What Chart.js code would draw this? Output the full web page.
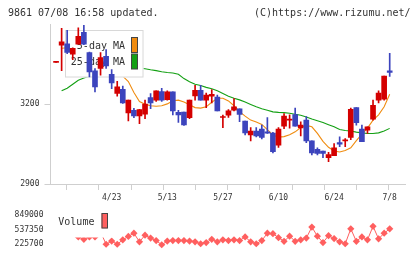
<!DOCTYPE html>
<html><head><meta charset="utf-8">
<script src="https://cdn.jsdelivr.net/npm/chart.js@4/dist/chart.umd.min.js"></script>
<style>
html,body{margin:0;padding:0;background:#fff;}
#wrap{position:relative;width:420px;height:259px;overflow:hidden;font-family:"DejaVu Sans Mono",monospace;}
.hdr{position:absolute;top:6px;font-size:10px;color:#333;line-height:14px;white-space:pre;}
#c1{position:absolute;left:0;top:0;width:420px;height:203px;}
#c2{position:absolute;left:0;top:203px;width:420px;height:56px;}
</style></head><body>
<div id="wrap">
<canvas id="c1" width="420" height="203"></canvas>
<canvas id="c2" width="420" height="56"></canvas>
<div class="hdr" style="left:8px">9861 07/08 16:58 updated.</div>
<div class="hdr" style="left:254px">(C)https://www.rizumu.net/</div>
</div>
<script>
// ---- data ----
const opens  = [3357,3422,3427,3388,3425,3470,3394,3325,3334,3380,3312,3240,3256,3167,3177,3156,3162,3225,3215,3247,3217,3246,3169,3170,3149,3231,3252,3215,3230,3227,3150,3159,3177,3182,3136,3084,3099,3106,3096,3091,3046,3117,3140,3161,3111,3140,3062,3030,3024,2999,3006,3056,3062,3075,3187,3106,3102,3144,3215,3219,3325];
const closes = [3357,3434,3394,3410,3455,3425,3321,3265,3375,3344,3280,3265,3205,3215,3156,3180,3200,3205,3250,3215,3246,3175,3160,3122,3215,3252,3215,3234,3237,3175,3152,3175,3190,3161,3092,3099,3081,3075,3091,3021,3106,3155,3142,3117,3121,3062,3017,3015,3015,3011,3036,3050,3065,3181,3130,3059,3115,3196,3242,3305,3319];
const highs  = [3357,3485,3477,3412,3487,3496,3396,3334,3394,3405,3330,3286,3268,3215,3184,3181,3215,3240,3250,3259,3250,3246,3177,3170,3215,3271,3271,3242,3255,3234,3159,3180,3221,3182,3136,3112,3112,3121,3150,3094,3112,3165,3160,3185,3134,3153,3062,3036,3024,3019,3052,3077,3071,3185,3187,3121,3115,3215,3250,3305,3391];
const lows   = [3357,3326,3390,3367,3425,3423,3302,3246,3309,3334,3258,3230,3203,3137,3149,3127,3145,3183,3210,3210,3215,3160,3131,3120,3145,3215,3215,3187,3205,3175,3112,3150,3175,3134,3084,3062,3077,3069,3090,3017,3037,3108,3110,3117,3081,3055,3009,3009,2999,2984,3006,3040,3040,3067,3121,3059,3090,3140,3205,3215,3304];
const ma5    = [null,3410,3412,3415,3410,3424,3401,3375,3368,3346,3320,3310,3305,3285,3244,3210,3200,3194,3192,3194,3201,3213,3215,3208,3198,3187,3185,3190,3207,3222,3222,3212,3194,3172,3155,3140,3133,3124,3104,3084,3076,3078,3085,3096,3112,3120,3115,3090,3060,3038,3024,3020,3026,3036,3063,3087,3110,3140,3160,3190,3237];
const ma25   = [null,3250,3260,3275,3290,3298,3305,3313,3320,3326,3330,3333,3335,3336,3336,3335,3333,3329,3326,3322,3319,3317,3312,3296,3284,3275,3270,3263,3258,3250,3240,3230,3222,3216,3208,3199,3190,3183,3177,3171,3169,3168,3166,3162,3158,3152,3144,3138,3131,3123,3115,3105,3101,3099,3095,3092,3090,3090,3092,3099,3109];
const volumes= [500000,849000,640000,470000,381500,329600,381500,381500,487500,225700,293200,225700,319200,391900,459400,277600,417900,355500,303600,215300,293200,303600,303600,303600,293200,277600,236100,262100,329600,277600,319200,303600,319200,303600,381500,277600,236100,303600,459400,449000,365900,288000,397100,288000,319200,355500,589300,397100,262100,407500,345200,277600,236100,553000,288000,381500,319200,604900,340000,459400,553000];
const tickIdx    = [10,20,30,40,50,60];
const tickLabels = ['4/23','5/13','5/27','6/10','6/24','7/8'];
const priceTicks = [2900,3200];
const volTicks   = [225700,537350,849000];

// ---- styles ----
const RED='#d40000', BLUE='#3c44bd', ORANGE='#f08c10', GREEN='#14a014', VOL='#ff5f5f', AXIS='#cfcfcf', TXT='#333';
const MONO='"DejaVu Sans Mono", monospace';
Chart.defaults.font.family = MONO;
Chart.defaults.color = TXT;

const idx = opens.map((_, i) => i);
const candleColor = idx.map(i => closes[i] >= opens[i] ? RED : BLUE);
const XMIN = -1, XMAX = 62.75;

const priceLegend = {
  id: 'priceLegend',
  afterDatasetDraw(chart, args) {
    if (args.index !== 1) return;
    const c = chart.ctx;
    c.save();
    c.fillStyle = '#fff';
    c.fillRect(65, 30, 78.5, 47.5);
    c.strokeStyle = '#d8d8d8'; c.lineWidth = 1;
    c.strokeRect(65.5, 30.5, 77.5, 46.5);
    c.font = '10px ' + MONO; c.fillStyle = TXT;
    c.textAlign = 'right'; c.textBaseline = 'middle';
    c.fillText('5-day MA', 125, 46);
    c.fillText('25-day MA', 125, 62.5);
    c.strokeStyle = '#444';
    c.fillStyle = ORANGE; c.fillRect(131, 37.5, 6.5, 15); c.strokeRect(131.5, 37.5, 6, 15);
    c.fillStyle = GREEN;  c.fillRect(131, 54, 6.5, 15);   c.strokeRect(131.5, 54, 6, 15);
    c.restore();
  }
};

new Chart(document.getElementById('c1'), {
  type: 'bar',
  data: {
    datasets: [
      { type:'line', label:'25-day MA', data: idx.map(i => ({x:i, y:ma25[i]})), borderColor: GREEN, borderWidth: 1.1, pointRadius: 0, order: 4, xAxisID:'x', yAxisID:'y' },
      { type:'line', label:'5-day MA',  data: idx.map(i => ({x:i, y:ma5[i]})),  borderColor: ORANGE, borderWidth: 1.1, pointRadius: 0, order: 3, xAxisID:'x', yAxisID:'y' },
      { type:'bar', label:'wick', data: idx.map(i => ({x:i, y:[lows[i], highs[i]]})), backgroundColor: candleColor, barThickness: 1, grouped: false, borderWidth: 0, order: 2, xAxisID:'x', yAxisID:'y' },
      { type:'bar', label:'body', data: idx.map(i => ({x:i, y:[opens[i], closes[i]]})), backgroundColor: candleColor, barThickness: 5, grouped: false, borderWidth: 0, minBarLength: 1, order: 1, xAxisID:'x', yAxisID:'y' }
    ]
  },
  options: {
    responsive: false, animation: false, events: [],
    layout: { padding: { left: 0, right: 15, top: 24.3, bottom: 0 } },
    plugins: { legend: { display: false }, tooltip: { enabled: false } },
    scales: {
      x: {
        type: 'linear', axis: 'x', position: 'bottom', weight: 0, offset: false, min: XMIN, max: XMAX,
        afterBuildTicks: s => { const t = []; for (let k = 0; k <= 11; k++) t.push({ value: XMIN + k * (XMAX - XMIN) / 11 }); s.ticks = t; },
        grid: { drawOnChartArea: false, tickLength: 6, color: AXIS },
        border: { color: AXIS },
        ticks: { display: false },
        afterFit: s => { s.height = 6; }
      },
      x2: {
        type: 'linear', axis: 'x', position: 'bottom', weight: 1, offset: false, min: XMIN, max: XMAX,
        afterBuildTicks: s => { s.ticks = tickIdx.map(v => ({ value: v })); },
        grid: { display: false, drawTicks: false },
        border: { display: false },
        ticks: { font: { size: 8, family: MONO }, color: TXT, padding: 3, maxRotation: 0, autoSkip: false,
                 callback: (v, i) => tickLabels[i] },
        afterFit: s => { s.height = 13; }
      },
      y: {
        type: 'linear', position: 'left', min: 2900, max: 3500,
        afterBuildTicks: s => { s.ticks = priceTicks.map(v => ({ value: v })); },
        grid: { drawOnChartArea: false, tickLength: 6, color: AXIS },
        border: { color: AXIS },
        ticks: { font: { size: 8, family: MONO }, color: TXT, padding: 5, callback: v => String(v) },
        afterFit: s => { s.width = 50.5; }
      }
    }
  },
  plugins: [priceLegend]
});

const volLegend = {
  id: 'volLegend',
  afterDatasetsDraw(chart) {
    const c = chart.ctx;
    c.save();
    c.fillStyle = '#fff';
    c.fillRect(51, 2, 61, 32.5);
    c.font = '10px ' + MONO; c.fillStyle = TXT;
    c.textAlign = 'left'; c.textBaseline = 'middle';
    c.fillText('Volume', 58.3, 19.3);
    c.fillStyle = VOL; c.fillRect(101.5, 10.3, 6, 15);
    c.strokeStyle = '#444'; c.lineWidth = 1; c.strokeRect(102, 10.5, 5.5, 14.5);
    c.restore();
  }
};

new Chart(document.getElementById('c2'), {
  type: 'line',
  data: {
    datasets: [{
      label: 'Volume', data: idx.map(i => ({x:i, y:volumes[i]})),
      borderColor: VOL, backgroundColor: VOL, borderWidth: 1,
      pointStyle: 'rectRot', pointRadius: 3.6, pointBorderWidth: 0, pointBackgroundColor: VOL,
      clip: false
    }]
  },
  options: {
    responsive: false, animation: false, events: [],
    layout: { padding: { left: 0, right: 15, top: 5.3, bottom: 6.7 } },
    plugins: { legend: { display: false }, tooltip: { enabled: false } },
    scales: {
      x: { type: 'linear', min: XMIN, max: XMAX, display: false },
      y: {
        type: 'linear', position: 'left', min: 163370, max: 849000,
        afterBuildTicks: s => { s.ticks = volTicks.map(v => ({ value: v })); },
        grid: { display: false, drawTicks: false },
        border: { display: false },
        ticks: { font: { size: 8, family: MONO }, color: TXT, padding: 7, callback: v => String(v) },
        afterFit: s => { s.width = 50.5; }
      }
    }
  },
  plugins: [volLegend]
});
</script>
</body></html>
